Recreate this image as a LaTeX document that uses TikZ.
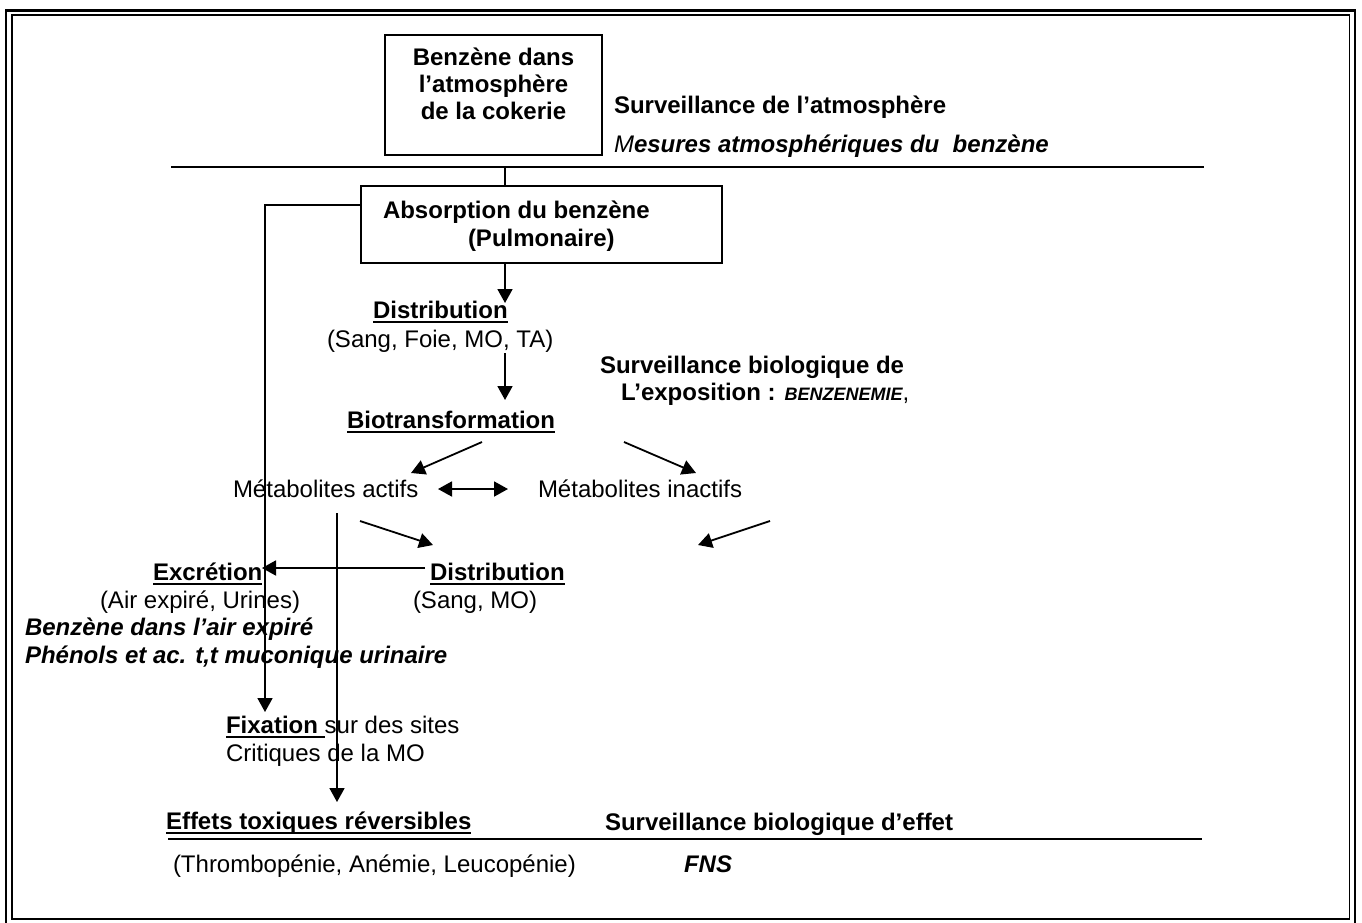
\documentclass[tikz,border=0pt]{standalone}
\usepackage{fontspec}
\setmainfont{Liberation Sans}
\usetikzlibrary{arrows.meta}
\newcommand\fs{\fontsize{24}{26}\selectfont}
\newsavebox\ulbox
\newcommand\ulx[1]{\sbox\ulbox{#1}\rlap{\rule[-5pt]{\wd\ulbox}{2pt}}\usebox\ulbox}
\begin{document}
\begin{tikzpicture}[x=1pt,y=-1pt,
  t/.style={inner sep=0pt,outer sep=0pt,anchor=base west,font=\fs},
  frm/.style={draw,line width=1.7pt,inner sep=0pt},
  ln/.style={line width=1.8pt},
  arr/.style={line width=1.8pt,-{Triangle[width=15pt,length=14pt]}},
  darr/.style={line width=1.8pt,{Triangle[width=15pt,length=14pt]}-{Triangle[width=15pt,length=14pt]}}]
\useasboundingbox (0,0) rectangle (1362,922);
% page frame
\draw[line width=2.3pt] (6.2,10.5) rectangle (1354.8,935);
\draw[line width=1.5pt] (11.8,15.2) rectangle (1349.6,919);

% top box
\node[frm,minimum width=217pt,minimum height=120pt] (atm) at (493.5,95) {};
\node[t,anchor=base,align=center,font=\fs\bfseries] (atmtxt) at (493.5,119) {Benzène dans\\[1pt]l’atmosphère\\[1pt]de la cokerie};
\node[t,font=\fs\bfseries] (survatm) at (614,113) {Surveillance de l’atmosphère};
\node[t] (mesures) at (614,152) {{\itshape M}{\bfseries\itshape esures atmosphériques du\ \ benzène}};

\coordinate (hl1a) at (171,167); \coordinate (hl1b) at (1204,167);
\draw[ln] (hl1a) -- (hl1b);

% absorption
\node[frm,minimum width=361pt,minimum height=77pt] (abs) at (541.5,224.5) {};
\node[t,font=\fs\bfseries] (abs1) at (383,218) {Absorption du benzène};
\node[t,font=\fs\bfseries] (abs2) at (468,246) {(Pulmonaire)};
\coordinate (j1) at (505,167);
\draw[ln] (j1) -- (abs.north -| j1);

% distribution / biotransformation
\node[t,font=\fs\bfseries] (dist1) at (373,318) {\ulx{Distribution}};
\node[t] (dist1b) at (327,347) {(Sang, Foie, MO, TA)};
\coordinate (a1e) at (505,303);
\draw[arr] (abs.south -| j1) -- (a1e);
\coordinate (a2s) at (505,353); \coordinate (a2e) at (505,400);
\draw[arr] (a2s) -- (a2e);
\node[t,font=\fs\bfseries] (bio) at (347,428) {\ulx{Biotransformation}};
\node[t,font=\fs\bfseries] (sb1) at (600,373) {Surveillance biologique de};
\node[t,font=\fs\bfseries] (sb2) at (621,400) {L’exposition : {\fontsize{18}{20}\selectfont\itshape BENZENEMIE}{\mdseries ,}};

% metabolites
\node[t] (mact) at (233,497) {Métabolites actifs};
\node[t] (minact) at (538,497) {Métabolites inactifs};
\coordinate (b1s) at (482,442); \coordinate (b1e) at (411,473);
\coordinate (b2s) at (624,442); \coordinate (b2e) at (696,473);
\draw[arr] (b1s) -- (b1e);
\draw[arr] (b2s) -- (b2e);
\coordinate (m1) at (438,489); \coordinate (m2) at (508,489);
\draw[darr] (m1) -- (m2);
\coordinate (c1s) at (360,521); \coordinate (c1e) at (433,545);
\coordinate (c2s) at (770,521); \coordinate (c2e) at (698,545);
\draw[arr] (c1s) -- (c1e);
\draw[arr] (c2s) -- (c2e);

% excretion / distribution
\node[t,font=\fs\bfseries] (excr) at (153,580) {\ulx{Excrétion}};
\node[t,font=\fs\bfseries] (dist2) at (430,580) {\ulx{Distribution}};
\node[t] (excrb) at (100,608) {(Air expiré, Urines)};
\node[t] (dist2b) at (413,608) {(Sang, MO)};
\node[t,font=\fs\bfseries\itshape] (bair) at (25,635) {Benzène dans l’air expiré};
\node[t,font=\fs\bfseries\itshape] (phen) at (25,663) {Phénols et ac. t,t muconique urinaire};
\coordinate (e1s) at (425,568); \coordinate (e1e) at (262,568);
\draw[arr] (e1s) -- (e1e);

% fixation
\node[t] (fix) at (226,733) {\ulx{\bfseries Fixation }sur des sites};
\node[t] (crit) at (226,761) {Critiques de la MO};
\coordinate (lk) at (265,205); \coordinate (fixtip) at (265,712);
\draw[arr] (abs.west |- lk) -- (lk) -- (fixtip);
\coordinate (v2s) at (337,513); \coordinate (v2e) at (337,802);
\draw[arr] (v2s) -- (v2e);

% effects
\node[t,font=\fs\bfseries] (eff) at (166,829) {\ulx{Effets toxiques réversibles}};
\node[t,font=\fs\bfseries] (sbe) at (605,830) {Surveillance biologique d’effet};
\coordinate (hl2a) at (168,839); \coordinate (hl2b) at (1202,839);
\draw[ln] (hl2a) -- (hl2b);
\node[t] (thr) at (173,872) {(Thrombopénie, Anémie, Leucopénie)};
\node[t,font=\fs\bfseries\itshape] (fns) at (684,872) {FNS};
\end{tikzpicture}
\end{document}
